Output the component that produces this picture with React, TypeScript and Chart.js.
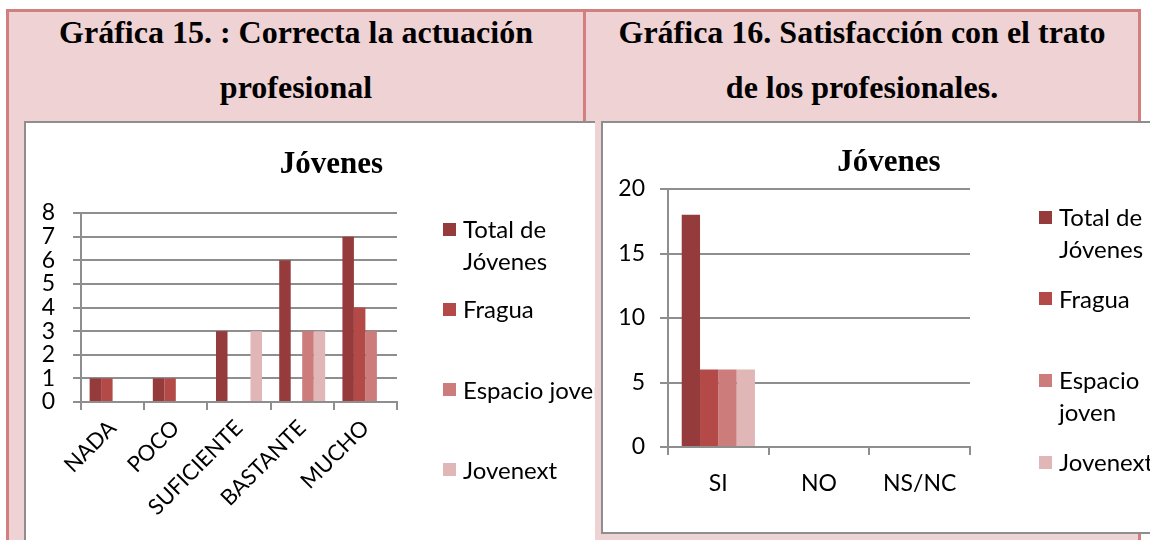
import React, { useEffect, useRef } from "react";
import { Chart, registerables } from "chart.js";

Chart.register(...registerables);

// ---- data ----
const seriesNames = ["Total de Jóvenes", "Fragua", "Espacio joven", "Jovenext"];
const seriesColors = ["#963b3b", "#b34a48", "#cc7c7b", "#e0b6b6"];

const actuacionCategories = ["NADA", "POCO", "SUFICIENTE", "BASTANTE", "MUCHO"];
const actuacionTotal = [1, 1, 3, 6, 7];
const actuacionFragua = [1, 1, 0, 0, 4];
const actuacionEspacio = [0, 0, 0, 3, 3];
const actuacionJovenext = [0, 0, 3, 3, 0];
const actuacionAxis = { max: 8, step: 1 };

const tratoCategories = ["SI", "NO", "NS/NC"];
const tratoTotal = [18, 0, 0];
const tratoFragua = [6, 0, 0];
const tratoEspacio = [6, 0, 0];
const tratoJovenext = [6, 0, 0];
const tratoAxis = { max: 20, step: 5 };

const chartTitle = "Jóvenes";
const header15 = ["Gráfica 15. : Correcta la actuación", "profesional"];
const header16 = ["Gráfica 16. Satisfacción con el trato", "de los profesionales."];

// ---- style ----
const SANS = "Lato, 'Open Sans', sans-serif";
const SERIF = "'Liberation Serif', 'Times New Roman', serif";
const GRID = "#8e8e8e";
const RED = "#d47f7f";
const PINK = "#efd2d3";

type Layout = {
  w: number;
  h: number;
  yWidth: number;
  rightPad: number;
  xHeight: number;
  bottomPad: number;
  titleTop: number;
  titleBottom: number;
  rotation: number;
  xPad: number;
  yPad: number;
  xFont: number;
};

function buildConfig(
  labels: string[],
  series: number[][],
  axis: { max: number; step: number },
  L: Layout
): any {
  return {
    type: "bar",
    data: {
      labels,
      datasets: series.map((d, i) => ({
        label: seriesNames[i],
        data: d,
        backgroundColor: seriesColors[i],
        borderWidth: 0,
        barPercentage: 1,
        categoryPercentage: 4 / 5.5,
      })),
    },
    options: {
      responsive: false,
      animation: false,
      events: [],
      layout: { padding: { left: 0, right: 0, top: 0, bottom: L.bottomPad } },
      plugins: {
        legend: { display: false },
        tooltip: { enabled: false },
        title: {
          display: true,
          text: chartTitle,
          color: "#000",
          font: { family: SERIF, size: 31, weight: "bold", lineHeight: 1.2 },
          padding: { top: L.titleTop, bottom: L.titleBottom },
        },
      },
      scales: {
        x: {
          type: "category",
          grid: {
            display: true,
            drawOnChartArea: false,
            drawTicks: true,
            tickLength: 8,
            color: GRID,
            lineWidth: 2,
            offset: true,
          },
          border: { display: true, color: GRID, width: 2 },
          ticks: {
            color: "#000",
            font: { family: SANS, size: L.xFont },
            padding: L.xPad,
            autoSkip: false,
            minRotation: L.rotation,
            maxRotation: L.rotation,
          },
          afterFit: (s: any) => {
            s.height = L.xHeight;
          },
        },
        y: {
          type: "linear",
          position: "left",
          min: 0,
          max: axis.max,
          grid: { color: GRID, lineWidth: 2, tickLength: 8, drawTicks: true },
          border: { display: true, color: GRID, width: 2 },
          ticks: {
            stepSize: axis.step,
            autoSkip: false,
            color: "#000",
            font: { family: SANS, size: 23, lineHeight: 1 },
            padding: L.yPad,
          },
          afterFit: (s: any) => {
            s.width = L.yWidth;
          },
        },
        pad: {
          type: "linear",
          position: "right",
          display: true,
          grid: { display: false },
          border: { display: false },
          ticks: { display: false },
          afterFit: (s: any) => {
            s.width = L.rightPad;
          },
        },
      },
    },
  };
}

function BarChart(props: {
  labels: string[];
  series: number[][];
  axis: { max: number; step: number };
  layout: Layout;
}) {
  const ref = useRef<HTMLCanvasElement | null>(null);
  useEffect(() => {
    if (!ref.current) return;
    const chart = new Chart(
      ref.current,
      buildConfig(props.labels, props.series, props.axis, props.layout)
    );
    return () => chart.destroy();
  }, []);
  return (
    <canvas
      ref={ref}
      width={props.layout.w}
      height={props.layout.h}
      style={{
        position: "absolute",
        left: 0,
        top: 0,
        width: props.layout.w,
        height: props.layout.h,
        display: "block",
      }}
    />
  );
}

function Legend(props: {
  left: number;
  top: number;
  slot: number;
  textWidth: number;
}) {
  return (
    <div style={{ position: "absolute", left: props.left, top: props.top }}>
      {seriesNames.map((name, i) => (
        <div key={name} style={{ position: "relative", height: props.slot }}>
          <div
            style={{
              position: "absolute",
              left: 0,
              top: 9.5,
              width: 13,
              height: 13,
              background: seriesColors[i],
            }}
          />
          <div
            style={{
              position: "absolute",
              left: 20,
              top: 0,
              width: props.textWidth,
              font: `24px ${SANS}`,
              lineHeight: "32px",
              color: "#000",
              whiteSpace: "normal",
            }}
          >
            {name}
          </div>
        </div>
      ))}
    </div>
  );
}

const leftLayout: Layout = {
  w: 611,
  h: 430,
  yWidth: 55,
  rightPad: 240,
  xHeight: 140,
  bottomPad: 11,
  titleTop: 23.4,
  titleBottom: 29.4,
  rotation: 45,
  xPad: 5,
  yPad: 18,
  xFont: 22,
};

const rightLayout: Layout = {
  w: 572,
  h: 409,
  yWidth: 65,
  rightPad: 205,
  xHeight: 60,
  bottomPad: 25,
  titleTop: 21.4,
  titleBottom: 7.4,
  rotation: 0,
  xPad: 15,
  yPad: 15,
  xFont: 23,
};

export default function App() {
  const headerStyle: React.CSSProperties = {
    position: "absolute",
    top: 4.5,
    textAlign: "center",
    font: `bold 32px ${SERIF}`,
    lineHeight: "55px",
    color: "#000",
    whiteSpace: "nowrap",
  };
  return (
    <div
      style={{
        position: "fixed",
        left: 0,
        top: 0,
        width: 1150,
        height: 540,
        overflow: "hidden",
        background: "#fff",
      }}
    >
      <div
        style={{
          position: "absolute",
          left: 6,
          top: 9,
          width: 1135,
          height: 600,
          boxSizing: "border-box",
          border: `3px solid ${RED}`,
          background: PINK,
        }}
      />
      <div
        style={{
          position: "absolute",
          left: 583,
          top: 9,
          width: 3,
          height: 112,
          background: RED,
        }}
      />
      <div style={{ ...headerStyle, left: 9, width: 574 }}>
        {header15[0]}
        <br />
        {header15[1]}
      </div>
      <div style={{ ...headerStyle, left: 586, width: 552 }}>
        {header16[0]}
        <br />
        {header16[1]}
      </div>

      {/* left chart box */}
      <div
        style={{
          position: "absolute",
          left: 24,
          top: 121,
          width: 571,
          height: 440,
          boxSizing: "border-box",
          borderTop: `2px solid ${GRID}`,
          borderLeft: `2px solid ${GRID}`,
          background: "#fff",
          overflow: "hidden",
        }}
      >
        <BarChart
          labels={actuacionCategories}
          series={[actuacionTotal, actuacionFragua, actuacionEspacio, actuacionJovenext]}
          axis={actuacionAxis}
          layout={leftLayout}
        />
        <Legend left={417} top={90} slot={80.3} textWidth={170} />
      </div>

      {/* right chart box */}
      <div
        style={{
          position: "absolute",
          left: 601,
          top: 121,
          width: 600,
          height: 413,
          boxSizing: "border-box",
          border: `2px solid ${GRID}`,
          background: "#fff",
          overflow: "hidden",
        }}
      >
        <BarChart
          labels={tratoCategories}
          series={[tratoTotal, tratoFragua, tratoEspacio, tratoJovenext]}
          axis={tratoAxis}
          layout={rightLayout}
        />
        <Legend left={436} top={78} slot={81.7} textWidth={120} />
      </div>
    </div>
  );
}
